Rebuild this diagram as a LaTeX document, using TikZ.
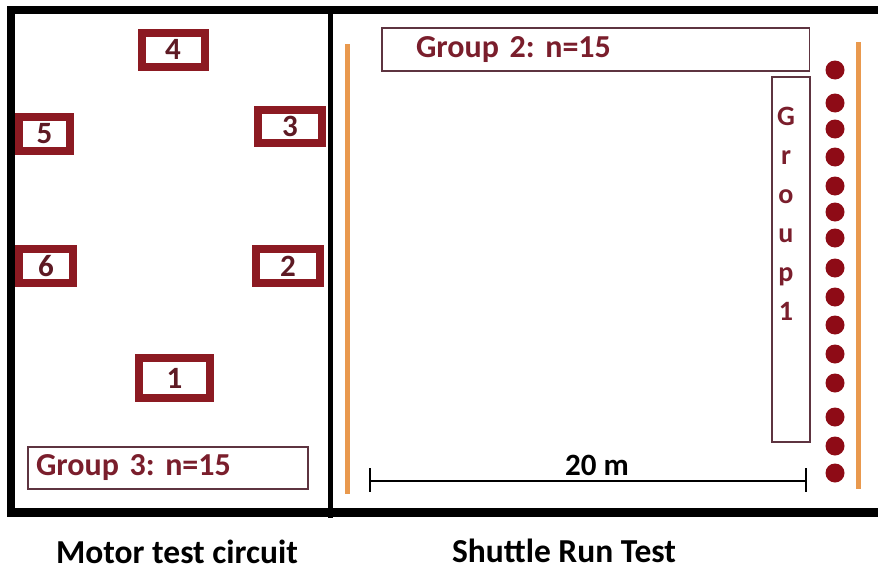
\documentclass[tikz,border=0pt]{standalone}
\usepackage{fontspec}
\setmainfont{Carlito}
\usetikzlibrary{calc}

\definecolor{maroon}{HTML}{8C1A22}
\definecolor{labelred}{HTML}{7A1E2C}
\definecolor{digitred}{HTML}{5E1A24}
\definecolor{thinframe}{HTML}{5E3440}
\definecolor{track}{HTML}{E9994E}
\definecolor{runner}{HTML}{8E0B16}

\begin{document}
\frenchspacing
\begin{tikzpicture}[x=1pt,y=-1pt,
  every node/.style={font=\bfseries},
  station/.style={draw=maroon, line width=8pt, inner sep=0pt,
    text=digitred, font=\bfseries\fontsize{31}{33}\selectfont},
  groupbox/.style={draw=thinframe, line width=1.4pt, inner ysep=0pt,
    text=labelred, align=left, font=\bfseries\fontsize{32}{34}\selectfont},
  letter/.style={anchor=base, inner sep=0pt, text=labelred,
    font=\bfseries\fontsize{28}{30}\selectfont},
  runnerdot/.style={circle, fill=runner, minimum size=19pt, inner sep=0pt},
  caption/.style={anchor=base, inner sep=0pt, text=black,
    font=\bfseries\fontsize{33.5}{36}\selectfont},
  frame/.style={line width=8.5pt, black},
  lane/.style={line width=4.5pt, track}
]
\useasboundingbox (0,0) rectangle (878,570);

% outer frame, open on the right, and the divider
\draw[frame] (878,10) -- (11,10) -- (11,512.5) -- (878,512.5);
\draw[line width=5pt] (330.5,6) -- (330.5,518);

% motor test circuit: six stations
\node[station, minimum width=63pt, minimum height=34pt] (s4) at (173,49.5) {4};
\node[station, minimum width=51pt, minimum height=34pt] (s5) at (44.5,134) {5};
\node[station, minimum width=63.5pt, minimum height=33pt] (s3) at (290,126.5) {3};
\node[station, minimum width=54pt, minimum height=34pt] (s6) at (46,266) {6};
\node[station, minimum width=64pt, minimum height=34pt] (s2) at (288,266) {2};
\node[station, minimum width=71pt, minimum height=40pt] (s1) at (174.5,378) {1};

\node[groupbox, minimum height=42pt, inner xsep=8pt, text width=264pt] (g3)
  at (168,468) {Group 3: n=15};

% shuttle run: lanes, groups and runners
\draw[lane] (347.5,44) -- (347.5,494);
\draw[lane] (858.5,42) -- (858.5,489);

\node[groupbox, minimum height=43pt, inner xsep=34pt, text width=359.5pt] (g2)
  at (595.75,49.5) {Group 2: n=15};

\node[draw=thinframe, line width=1.4pt, minimum width=38pt, minimum height=365pt,
  inner sep=0pt] (g1) at (791,259.5) {};
\foreach \ch [count=\i] in {G,r,o,u,p,1}
  \node[letter] (gl\i) at (786,{125+39*(\i-1)}) {\ch};

\foreach \yy [count=\i] in {70,103,129,157,186,212,238,268,297,325,354,383,417,446,473}
  \node[runnerdot] (r\i) at (835,\yy) {};

% 20 m distance marker
\coordinate (m0) at (370,481);
\coordinate (m1) at (806,481);
\draw[line width=1.2pt] (m0) -- (m1);
\draw[line width=1.2pt] ($(m0)+(0,-13)$) -- ($(m0)+(0,11)$);
\draw[line width=1.2pt] ($(m1)+(0,-13)$) -- ($(m1)+(0,11)$);
\node[caption, font=\bfseries\fontsize{31}{33}\selectfont] (dist) at (597,475) {20 m};

% captions
\node[caption] (capL) at (177,563) {Motor test circuit};
\node[caption] (capR) at (564,562) {Shuttle Run Test};
\end{tikzpicture}
\end{document}
